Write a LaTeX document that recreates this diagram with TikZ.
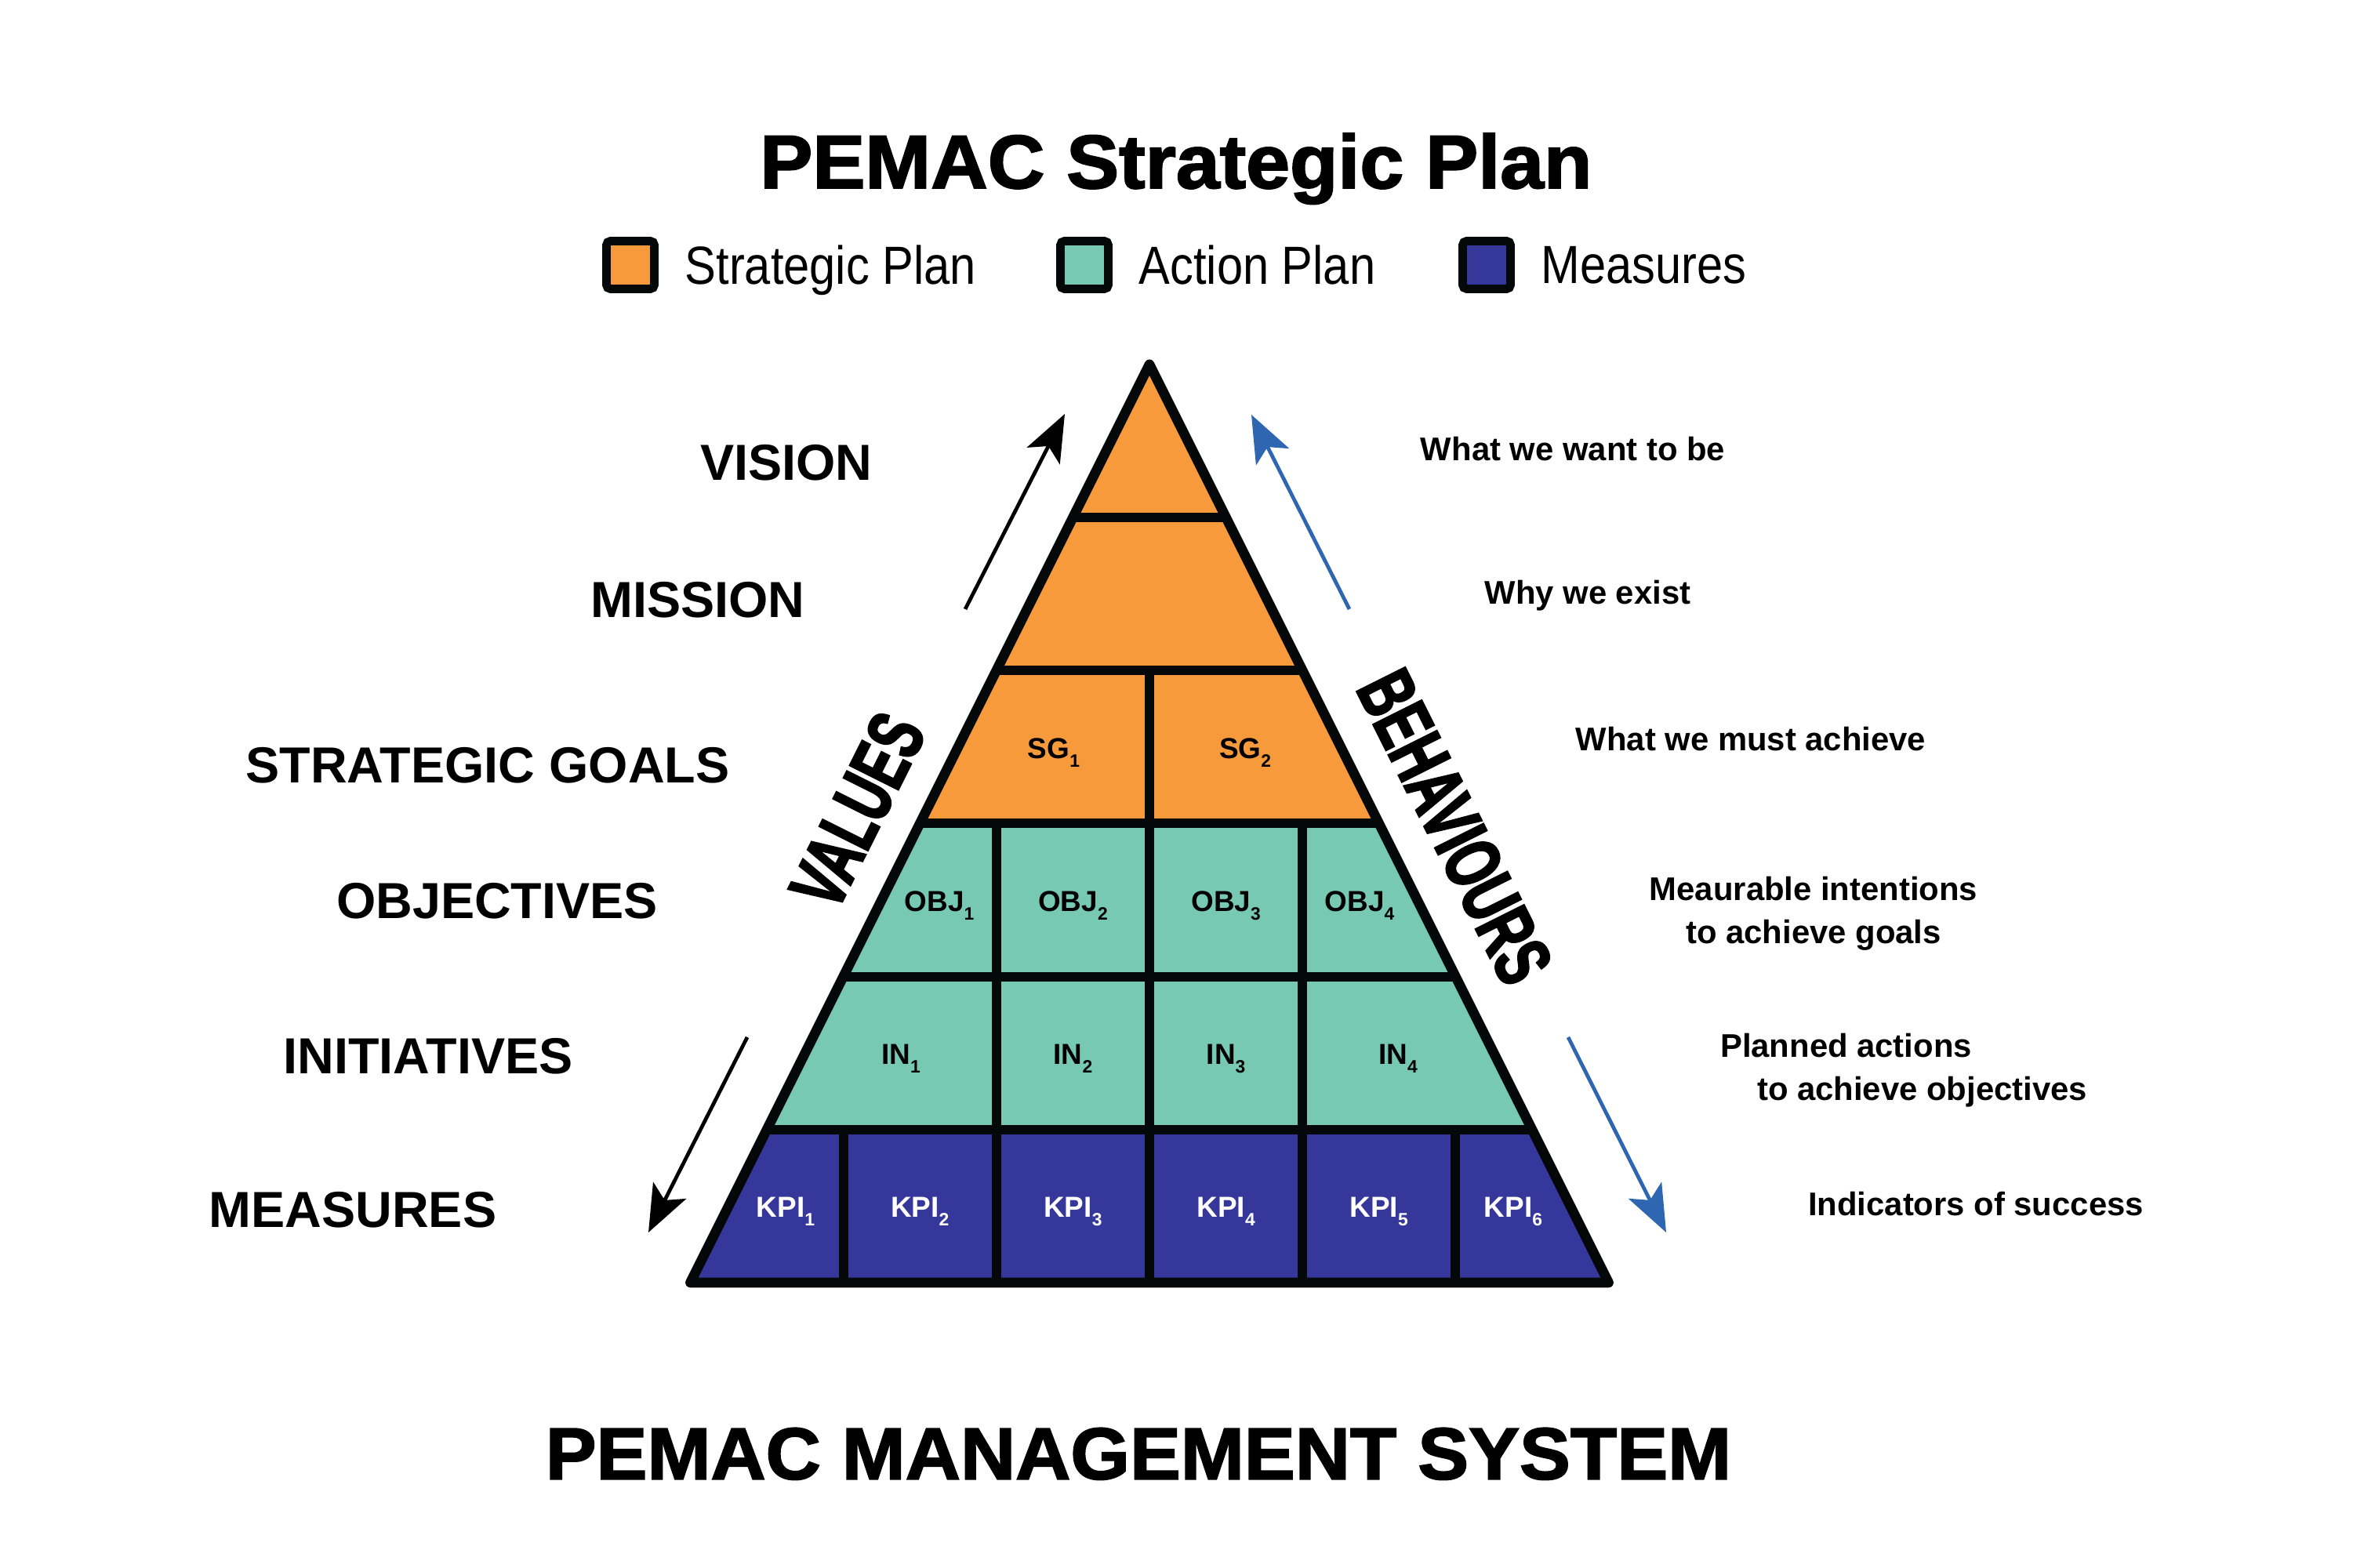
\documentclass[tikz,border=0pt]{standalone}
\usepackage{fontspec}
\setmainfont{Liberation Sans}
\newfontfamily\titlefont[FakeStretch=1.04,BoldFeatures={FakeBold=2}]{Liberation Sans}
\newfontfamily\edgefont[FakeStretch=0.65,BoldFeatures={FakeBold=2.5}]{Liberation Sans}
\newfontfamily\legendfont[FakeStretch=0.87]{Liberation Sans}
\usepackage{tikz}
\usetikzlibrary{arrows.meta, positioning}
\definecolor{planorange}{HTML}{F69A3C}
\definecolor{actionteal}{HTML}{77C9B4}
\definecolor{measnavy}{HTML}{35389A}
\definecolor{arrowblue}{HTML}{2E66B2}
\definecolor{inkblack}{HTML}{050808}
\newcommand{\cellsub}[1]{\raisebox{-0.55ex}{\fontsize{6.5}{7}\selectfont #1}}

\begin{document}
\begin{tikzpicture}[
    pyrline/.style={draw=inkblack, line width=3.4pt},
    outline/.style={draw=inkblack, line width=3.6pt, line join=round},
    celltext/.style={font=\bfseries\fontsize{10.5}{12}\selectfont, inner sep=0pt, text depth=0pt},
    kpitext/.style={celltext, text=white},
    levellabel/.style={font=\bfseries\fontsize{18.4}{22}\selectfont, inner sep=0pt, text depth=0pt},
    desctext/.style={font=\bfseries\fontsize{11.9}{15.6}\selectfont, inner sep=0pt},
    edgetext/.style={font=\edgefont\bfseries\fontsize{28.5}{30}\selectfont, inner sep=0pt, anchor=south},
    bigtitle/.style={font=\titlefont\bfseries\fontsize{#1}{33}\selectfont, inner sep=0pt, text depth=0pt},
    legbox/.style={draw=inkblack, line width=3.1pt, rounded corners=1.5pt, minimum size=0.61cm, inner sep=0pt},
    legtext/.style={font=\legendfont\fontsize{19.5}{22}\selectfont, inner sep=0pt, text depth=0pt},
    flowarrow/.style={-{Stealth[length=6mm, width=4.7mm, inset=1.4mm]}, line width=1.35pt},
  ]
  \fill[white] (0,0) rectangle (30.01,20);
  \useasboundingbox (0,0) rectangle (30.01,20);

  % Titles
  \node[bigtitle=27.5] (title) at (15.00,17.95) {PEMAC Strategic Plan};
  \node[bigtitle=26.6] (systitle) at (14.52,1.46) {PEMAC MANAGEMENT SYSTEM};

  % Legend
  \node[legbox, fill=planorange] (keystrat) at (8.04,16.62) {};
  \node[legtext, right=0.33cm of keystrat] (keystrattext) {Strategic Plan};
  \node[legbox, fill=actionteal] (keyaction) at (13.83,16.62) {};
  \node[legtext, right=0.33cm of keyaction] (keyactiontext) {Action Plan};
  \node[legbox, fill=measnavy] (keymeas) at (18.96,16.62) {};
  \node[legtext, right=0.33cm of keymeas] (keymeastext) {Measures};

  % Pyramid corners
  \coordinate (apex) at (14.66,15.352);
  \coordinate (bl) at (8.804,3.64);
  \coordinate (br) at (20.516,3.64);

  % Colour bands
  \fill[planorange] (apex) -- (17.588,9.496) -- (11.732,9.496) -- cycle;
  \fill[actionteal] (11.732,9.496) -- (17.588,9.496) -- (19.54,5.592) -- (9.78,5.592) -- cycle;
  \fill[measnavy] (9.78,5.592) -- (19.54,5.592) -- (br) -- (bl) -- cycle;

  % Row lines
  \draw[pyrline] (13.684,13.40) -- (15.636,13.40);
  \draw[pyrline] (12.708,11.448) -- (16.612,11.448);
  \draw[pyrline] (11.732,9.496) -- (17.588,9.496);
  \draw[pyrline] (10.756,7.544) -- (18.564,7.544);
  \draw[pyrline] (9.78,5.592) -- (19.54,5.592);
  % Column lines
  \draw[pyrline] (14.66,11.448) -- (14.66,3.64);
  \draw[pyrline] (12.708,9.496) -- (12.708,3.64);
  \draw[pyrline] (16.612,9.496) -- (16.612,3.64);
  \draw[pyrline] (10.756,5.592) -- (10.756,3.64);
  \draw[pyrline] (18.564,5.592) -- (18.564,3.64);
  \draw[outline] (apex) -- (br) -- (bl) -- cycle;

  % Cells
  \node[celltext] (sg1) at (13.44,10.45) {SG\cellsub{1}};
  \node[celltext] (sg2) at (15.88,10.45) {SG\cellsub{2}};
  \node[celltext] (obj1) at (11.98,8.50) {OBJ\cellsub{1}};
  \node[celltext] (obj2) at (13.684,8.50) {OBJ\cellsub{2}};
  \node[celltext] (obj3) at (15.636,8.50) {OBJ\cellsub{3}};
  \node[celltext] (obj4) at (17.34,8.50) {OBJ\cellsub{4}};
  \node[celltext] (in1) at (11.49,6.55) {IN\cellsub{1}};
  \node[celltext] (in2) at (13.684,6.55) {IN\cellsub{2}};
  \node[celltext] (in3) at (15.636,6.55) {IN\cellsub{3}};
  \node[celltext] (in4) at (17.83,6.55) {IN\cellsub{4}};
  \node[kpitext] (kpi1) at (10.02,4.60) {KPI\cellsub{1}};
  \node[kpitext] (kpi2) at (11.732,4.60) {KPI\cellsub{2}};
  \node[kpitext] (kpi3) at (13.684,4.60) {KPI\cellsub{3}};
  \node[kpitext] (kpi4) at (15.636,4.60) {KPI\cellsub{4}};
  \node[kpitext] (kpi5) at (17.588,4.60) {KPI\cellsub{5}};
  \node[kpitext] (kpi6) at (19.30,4.60) {KPI\cellsub{6}};

  % Side words
  \node[edgetext, rotate=63.43] (values) at (11.26,9.50) {VALUES};
  \node[edgetext, rotate=-63.43] (behaviours) at (18.23,9.29) {BEHAVIOURS};

  % Level labels
  \node[levellabel] (vision) at (10.03,14.10) {VISION};
  \node[levellabel] (mission) at (8.90,12.35) {MISSION};
  \node[levellabel] (goals) at (6.22,10.24) {STRATEGIC GOALS};
  \node[levellabel] (objectives) at (6.34,8.51) {OBJECTIVES};
  \node[levellabel] (initiatives) at (5.46,6.53) {INITIATIVES};
  \node[levellabel] (measures) at (4.50,4.57) {MEASURES};

  % Descriptions
  \node[desctext, text depth=0pt] (wantbe) at (20.06,14.28) {What we want to be};
  \node[desctext, text depth=0pt] (exist) at (20.25,12.45) {Why we exist};
  \node[desctext, text depth=0pt] (achieve) at (22.33,10.58) {What we must achieve};
  \node[desctext, align=center] (intent) at (23.13,8.35) {Meaurable intentions\\to achieve goals};
  \node[desctext, align=left] (planned) at (24.28,6.35) {Planned actions\\\hspace*{0.47cm}to achieve objectives};
  \node[desctext, text depth=0pt] (success) at (25.20,4.65) {Indicators of success};

  % Arrows
  \coordinate (vup0) at (12.31,12.23);
  \coordinate (vup1) at (13.58,14.72);
  \coordinate (bup0) at (17.21,12.23);
  \coordinate (bup1) at (15.96,14.71);
  \coordinate (vdown0) at (9.53,6.77);
  \coordinate (vdown1) at (8.27,4.28);
  \coordinate (bdown0) at (20.00,6.77);
  \coordinate (bdown1) at (21.25,4.28);
  \draw[flowarrow] (vup0) -- (vup1);
  \draw[flowarrow, arrowblue] (bup0) -- (bup1);
  \draw[flowarrow] (vdown0) -- (vdown1);
  \draw[flowarrow, arrowblue] (bdown0) -- (bdown1);
\end{tikzpicture}
\end{document}
